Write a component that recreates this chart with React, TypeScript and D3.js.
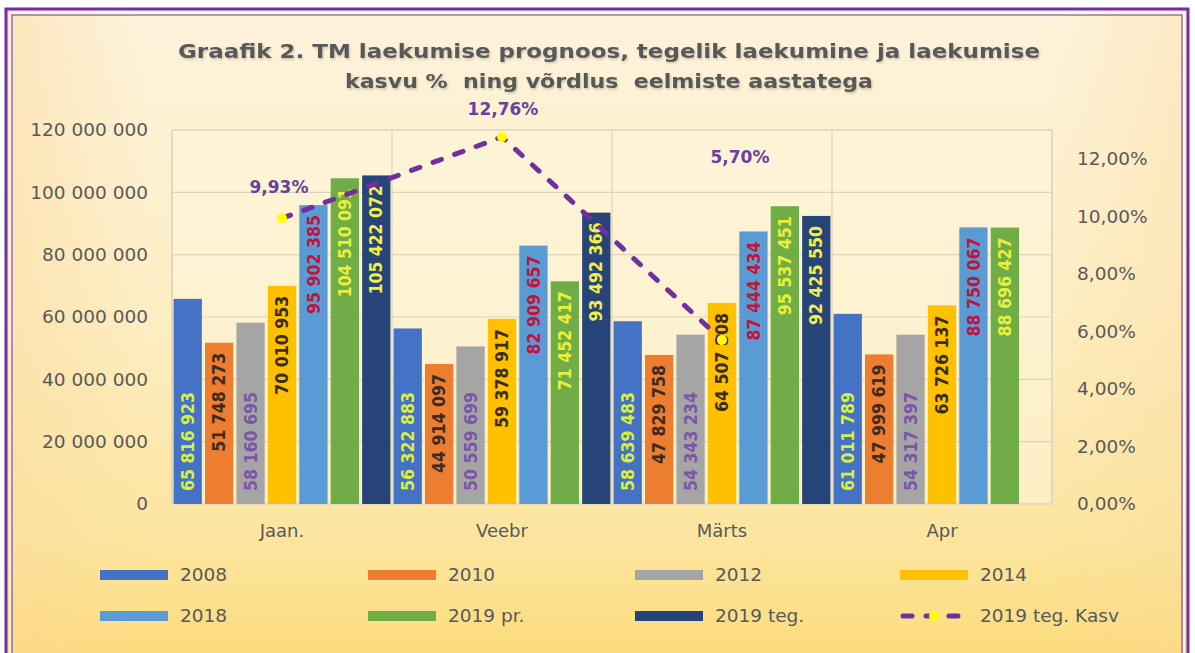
import React from 'react';
import * as d3 from 'd3';

const categories = ['Jaan.', 'Veebr', 'Märts', 'Apr'];
const seriesNames = ['2008', '2010', '2012', '2014', '2018', '2019 pr.', '2019 teg.'];
const v2008 = [65816923, 56322883, 58639483, 61011789];
const v2010 = [51748273, 44914097, 47829758, 47999619];
const v2012 = [58160695, 50559699, 54343234, 54317397];
const v2014 = [70010953, 59378917, 64507808, 63726137];
const v2018 = [95902385, 82909657, 87444434, 88750067];
const v2019pr = [104510091, 71452417, 95537451, 88696427];
const v2019teg: (number | null)[] = [105422072, 93492366, 92425550, null];
const growthName = '2019 teg. Kasv';
const growth: (number | null)[] = [0.0993, 0.1276, 0.057, null];
const leftTicks = [0, 20000000, 40000000, 60000000, 80000000, 100000000, 120000000];
const rightTicks = [0, 0.02, 0.04, 0.06, 0.08, 0.1, 0.12];
const titleLines = [
  'Graafik 2. TM laekumise prognoos, tegelik laekumine ja laekumise',
  'kasvu %  ning võrdlus  eelmiste aastatega',
];

const seriesValues: (number | null)[][] = [v2008, v2010, v2012, v2014, v2018, v2019pr, v2019teg];
const barColors = ['#4472c4', '#ed7d31', '#a5a5a5', '#ffc000', '#5b9bd5', '#70ad47', '#264478'];
const labelColors = ['#d8f03a', '#3d2b1f', '#7a55a8', '#3a2c10', '#c0143c', '#e8f03c', '#f0f048'];
const labelInsideBase = [true, false, true, false, false, false, false];

const W = 1195;
const H = 653;
const PL = 172, PR = 1052, PT = 130, PB = 504;

const fmtNum = (v: number) => d3.format(',')(v).replace(/,/g, ' ');
const fmtPct = (v: number) => (v * 100).toFixed(2).replace('.', ',') + '%';

export default function App() {
  const x0 = d3.scaleBand<string>().domain(categories).range([PL, PR]).paddingInner(0).paddingOuter(0);
  const x1 = d3.scaleBand<string>().domain(seriesNames).range([0, x0.bandwidth()]).paddingInner(0.1).paddingOuter(0.05);
  const yL = d3.scaleLinear().domain([0, 120000000]).range([PB, PT]);
  const yR = d3.scaleLinear().domain([0, 0.13]).range([PB, PT]);

  const linePts = growth
    .map((g, i) => (g == null ? null : ([x0(categories[i])! + x0.bandwidth() / 2, yR(g)] as [number, number])))
    .filter((p): p is [number, number] => p != null);
  const lineGen = d3.line<[number, number]>().x((d) => d[0]).y((d) => d[1]);

  const pctOffsets: [number, number][] = [[-3, -31], [1, -28], [18, -183]];

  const font = "'DejaVu Sans', sans-serif";
  const condFont = "'DejaVu Sans Condensed', 'DejaVu Sans', sans-serif";
  const textGray = '#595959';

  const legendCols = [100, 368, 635, 900];
  const legendRows = [575, 616];
  const legendItems = [...seriesNames.map((n, i) => ({ name: n, kind: 'bar', color: barColors[i] })), { name: growthName, kind: 'line', color: '#7030a0' }];

  return (
    <svg width={W} height={H} style={{ display: 'block', position: 'absolute', left: 0, top: 0 }}>
      <defs>
        <linearGradient id="bg" x1="0" y1="0" x2="0" y2="1">
          <stop offset="0" stopColor="#fdf3dc" />
          <stop offset="0.45" stopColor="#fdeec4" />
          <stop offset="0.8" stopColor="#fce5a0" />
          <stop offset="1" stopColor="#fbdb78" />
        </linearGradient>
        <linearGradient id="side" x1="0" y1="0" x2="1" y2="0">
          <stop offset="0" stopColor="#fbd89a" stopOpacity="0.45" />
          <stop offset="0.12" stopColor="#fbd89a" stopOpacity="0" />
          <stop offset="0.88" stopColor="#fbd89a" stopOpacity="0" />
          <stop offset="1" stopColor="#fbd89a" stopOpacity="0.35" />
        </linearGradient>
        <filter id="tshadow" x="-5%" y="-20%" width="110%" height="140%">
          <feDropShadow dx="1" dy="1.5" stdDeviation="1" floodColor="#000" floodOpacity="0.2" />
        </filter>
      </defs>
      <rect x={0} y={0} width={W} height={H} fill="#ffffff" />
      <rect x={6} y={9} width={1182} height={660} fill="url(#bg)" />
      <rect x={6} y={9} width={1182} height={660} fill="url(#side)" />
      <rect x={6} y={9} width={1182} height={660} fill="none" stroke="#7030a0" strokeWidth={3} />
      <rect x={10} y={13} width={1174} height={660} fill="none" stroke="#ffffff" strokeWidth={1.5} />
      <rect x={12} y={15} width={1170} height={660} fill="none" stroke="#7030a0" strokeWidth={1} />

      {/* title */}
      <g filter="url(#tshadow)">
        <text x={609} y={58} textAnchor="middle" fontFamily={font} fontWeight="bold" fontSize={19} fill={textGray} textLength={862} lengthAdjust="spacingAndGlyphs" style={{ whiteSpace: 'pre' }}>{titleLines[0]}</text>
        <text x={609} y={88} textAnchor="middle" fontFamily={font} fontWeight="bold" fontSize={19} fill={textGray} textLength={528} lengthAdjust="spacingAndGlyphs" style={{ whiteSpace: 'pre' }}>{titleLines[1]}</text>
      </g>

      {/* plot area */}
      <rect x={PL} y={PT} width={PR - PL} height={PB - PT} fill="#fef6dc" fillOpacity={0.55} stroke="#ddd3bb" strokeWidth={1} />
      {leftTicks.map((t) => (
        <line key={'g' + t} x1={PL} x2={PR} y1={yL(t)} y2={yL(t)} stroke="#ddd3bb" strokeWidth={1.2} />
      ))}
      {categories.map((c) => (
        <line key={'v' + c} x1={x0(c)!} x2={x0(c)!} y1={PT} y2={PB} stroke="#ddd3bb" strokeWidth={1.2} />
      ))}
      <line x1={PR} x2={PR} y1={PT} y2={PB} stroke="#ddd3bb" strokeWidth={1.2} />

      {/* left axis */}
      {leftTicks.map((t) => (
        <text key={'l' + t} x={148} y={yL(t)} dy="0.35em" textAnchor="end" fontFamily={font} fontSize={18.5} fill={textGray}>{fmtNum(t)}</text>
      ))}
      {/* right axis */}
      {rightTicks.map((t) => (
        <text key={'r' + t} x={1077} y={yR(t)} dy="0.35em" textAnchor="start" fontFamily={font} fontSize={18.5} fill={textGray}>{fmtPct(t)}</text>
      ))}
      {/* category labels */}
      {categories.map((c) => (
        <text key={'c' + c} x={x0(c)! + x0.bandwidth() / 2} y={531} dy="0.35em" textAnchor="middle" fontFamily={font} fontSize={18} fill={textGray}>{c}</text>
      ))}

      {/* bars */}
      {seriesValues.map((vals, si) => (
        <g key={'s' + si}>
          {vals.map((v, ci) => {
            if (v == null) return null;
            const bx = x0(categories[ci])! + x1(seriesNames[si])!;
            const bw = x1.bandwidth();
            const by = yL(v);
            return <rect key={ci} x={bx} y={by} width={bw} height={PB - by} fill={barColors[si]} />;
          })}
        </g>
      ))}
      {/* bar labels */}
      {seriesValues.map((vals, si) => (
        <g key={'sl' + si}>
          {vals.map((v, ci) => {
            if (v == null) return null;
            const cx = x0(categories[ci])! + x1(seriesNames[si])! + x1.bandwidth() / 2;
            const by = yL(v);
            const base = labelInsideBase[si];
            const ty = base ? PB - 13 : by + 10;
            const label = fmtNum(v);
            return (
              <text key={ci} transform={`translate(${cx},${ty}) rotate(-90)`} textAnchor={base ? 'start' : 'end'} dy="0.36em"
                fontFamily={condFont} fontWeight="bold" fontSize={17} fill={labelColors[si]}
                textLength={label.length * 9.9} lengthAdjust="spacingAndGlyphs">{label}</text>
            );
          })}
        </g>
      ))}

      {/* growth line */}
      <path d={lineGen(linePts) || ''} fill="none" stroke="#7030a0" strokeWidth={5} strokeDasharray="9 14" strokeLinecap="round" />
      {linePts.map((p, i) => (
        <circle key={'m' + i} cx={p[0]} cy={p[1]} r={5} fill="#ffff00" />
      ))}
      {linePts.map((p, i) => (
        <text key={'pl' + i} x={p[0] + pctOffsets[i][0]} y={p[1] + pctOffsets[i][1]} dy="0.35em" textAnchor="middle" fontFamily={font} fontWeight="bold" fontSize={17} fill="#6b3fa0">{fmtPct(growth[i] as number)}</text>
      ))}

      {/* legend */}
      {legendItems.map((it, i) => {
        const lx = legendCols[i % 4];
        const ly = legendRows[Math.floor(i / 4)];
        return (
          <g key={'lg' + i}>
            {it.kind === 'bar' ? (
              <rect x={lx} y={ly - 5} width={68} height={10} fill={it.color} />
            ) : (
              <g>
                <line x1={lx + 3} x2={lx + 65} y1={ly} y2={ly} stroke={it.color} strokeWidth={5} strokeDasharray="9 14" strokeLinecap="round" />
                <circle cx={lx + 34} cy={ly} r={5} fill="#ffff00" />
              </g>
            )}
            <text x={lx + 80} y={ly} dy="0.35em" fontFamily={font} fontSize={18.5} fill={textGray}>{it.name}</text>
          </g>
        );
      })}
    </svg>
  );
}
